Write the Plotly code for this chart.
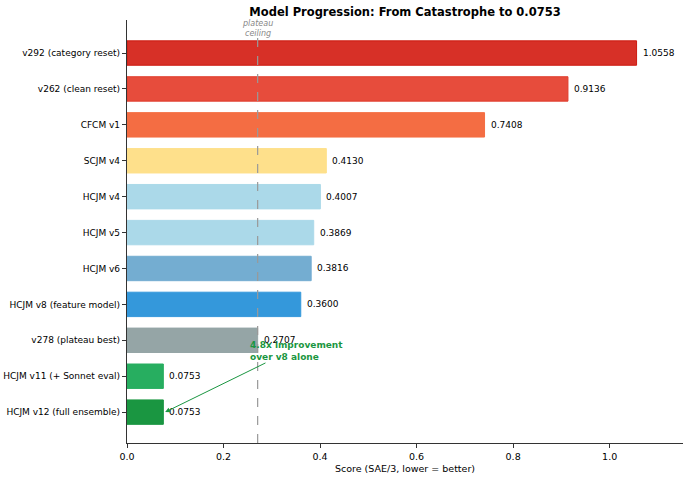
import plotly.graph_objects as go

models = ["HCJM v12 (full ensemble)", "HCJM v11 (+ Sonnet eval)", "v278 (plateau best)",
          "HCJM v8 (feature model)", "HCJM v6", "HCJM v5", "HCJM v4", "SCJM v4",
          "CFCM v1", "v262 (clean reset)", "v292 (category reset)"]
scores = [0.0753, 0.0753, 0.2707, 0.3600, 0.3816, 0.3869, 0.4007, 0.4130, 0.7408, 0.9136, 1.0558]
colors = ["#1a9641", "#27ae60", "#95a5a6", "#3498db", "#74add1", "#abd9e9", "#abd9e9",
          "#fee08b", "#f46d43", "#e74c3c", "#d73027"]
edges = ["#1a9641", "#27ae60", "#95a5a6", "#3498db", "#74add1", "#abd9e9", "#abd9e9",
         "#fee08b", "#f46d43", "#e03c2c", "#cc1a10"]
plateau = 0.2707
xticks = [0.0, 0.2, 0.4, 0.6, 0.8, 1.0]

font = "DejaVu Sans"
fig = go.Figure()
fig.add_trace(go.Bar(
    x=scores, y=models, orientation="h", width=0.68,
    marker=dict(color=colors, line=dict(color=edges, width=1)),
    hoverinfo="skip"))

for m, s in zip(models, scores):
    fig.add_annotation(x=s, y=m, text=f"{s:.4f}", showarrow=False, xanchor="left",
                       xshift=4, font=dict(family=font, size=9, color="black"))

fig.add_shape(type="line", x0=plateau, x1=plateau, y0=-0.86, y1=10.5, xref="x", yref="y",
              line=dict(color="#999999", width=1.2, dash="dash"))
fig.add_annotation(x=plateau, y=10.68, text="<i>plateau<br>ceiling</i>", showarrow=False,
                   font=dict(family=font, size=8, color="#888888"), yref="y")

# arrow
fig.add_annotation(x=0.079, y=0, ax=0.29, ay=1.39, axref="x", ayref="y",
                   xref="x", yref="y", text="", showarrow=True, arrowhead=2,
                   arrowsize=1, arrowwidth=1, arrowcolor="#1a9641", standoff=0)
fig.add_annotation(x=0.251, y=1.71, text="<b>4.8x improvement<br>over v8 alone</b>",
                   showarrow=False, xanchor="left", align="left",
                   font=dict(family=font, size=9, color="#1a9641"))

fig.update_layout(
    width=690, height=479, margin=dict(l=127, r=7, t=20, b=36),
    plot_bgcolor="white", paper_bgcolor="white", showlegend=False,
    font=dict(family=font, size=9, color="black"),
    title=dict(text="<b>Model Progression: From Catastrophe to 0.0753</b>",
               x=0.587, xanchor="center", y=0.975, yanchor="middle",
               font=dict(family=font, size=11.5, color="black")),
    bargap=0.3,
)
fig.update_xaxes(range=[0, 1.152], tickvals=xticks, ticktext=[f"{t:.1f}" for t in xticks],
                 showline=True, linecolor="#333333", linewidth=1.2, ticks="outside",
                 ticklen=4, tickcolor="#333333", showgrid=False, zeroline=False,
                 tickfont=dict(family=font, size=9.5), automargin=False,
                 title=dict(text="Score (SAE/3, lower = better)", standoff=4,
                            font=dict(family=font, size=9.5)))
fig.update_yaxes(type="category", range=[-0.86, 10.92], showline=True, linecolor="#333333",
                 linewidth=1.2, ticks="outside", ticklen=4, tickcolor="#333333",
                 showgrid=False, zeroline=False, automargin=False,
                 tickfont=dict(family=font, size=9))

fig.write_html("out.html")
